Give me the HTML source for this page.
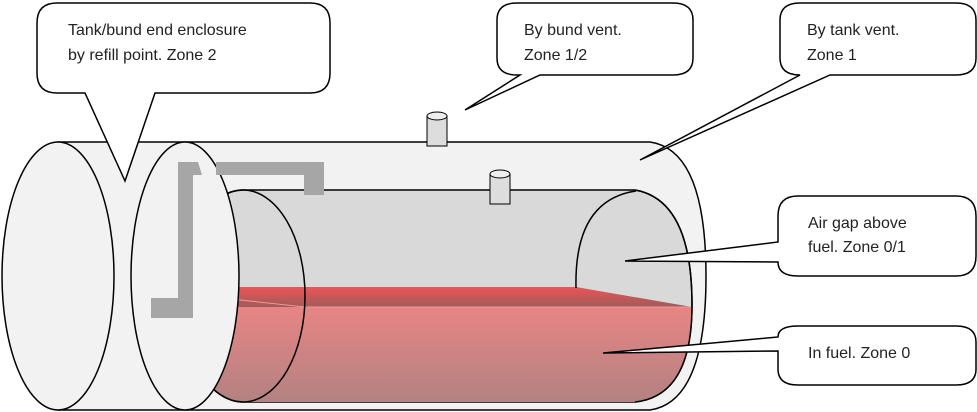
<!DOCTYPE html><html><head><style>body{margin:0;background:#fff}svg{display:block}text{font-family:"Liberation Sans",sans-serif;font-size:16px;fill:#222}</style></head><body>
<svg width="977" height="412" viewBox="0 0 977 412">
<defs><linearGradient id="f" x1="0" y1="0" x2="0" y2="1"><stop offset="0" stop-color="#e88484"/><stop offset="1" stop-color="#b08282"/></linearGradient>
<linearGradient id="b" x1="0" y1="0" x2="0" y2="1"><stop offset="0" stop-color="#ee5555"/><stop offset="1" stop-color="#a05a5a"/></linearGradient>
<clipPath id="c"><path d="M243,190 L635,190 Q692,200 692,305 Q692,396 635,402 L243,402 A62,106 0 0 1 243,190 Z"/></clipPath></defs>
<path d="M58,142 L650,142 Q706,150 706,276 Q706,402 650,410 L58,410 Z" fill="#f2f2f2" stroke="#000" stroke-width="1.5"/>
<rect x="427" y="116" width="20" height="30" fill="#ddd" stroke="#000"/><ellipse cx="437" cy="116" rx="10" ry="4" fill="#eee" stroke="#000"/>
<path d="M243,190 L635,190 Q692,200 692,305 Q692,396 635,402 L243,402 A62,106 0 0 1 243,190 Z" fill="#d9d9d9" stroke="#000" stroke-width="1.5"/>
<g clip-path="url(#c)">
<rect x="170" y="307" width="530" height="100" fill="url(#f)"/>
<path d="M170,287 L576,287 L692,307 L170,307 Z" fill="url(#b)"/>
<path d="M213,297 L305,307 L690,307" fill="none" stroke="#e99" stroke-width="1"/>
</g>
<path d="M576,288 Q574,200 636,191" fill="none" stroke="#000" stroke-width="1.5"/>
<path d="M635,190 Q692,200 692,305 Q692,396 635,402" fill="none" stroke="#000" stroke-width="1.5"/>
<ellipse cx="243" cy="296" rx="62" ry="106" fill="none" stroke="#000" stroke-width="1.5"/>
<rect x="490" y="174" width="20" height="30" fill="#ddd" stroke="#000"/><ellipse cx="500" cy="174" rx="10" ry="4" fill="#eee" stroke="#000"/>
<ellipse cx="58" cy="276" rx="56" ry="134" fill="#f2f2f2" stroke="#000" stroke-width="1.5"/>
<ellipse cx="185" cy="276" rx="54" ry="134" fill="#f2f2f2" stroke="#000" stroke-width="1.5"/>
<path d="M178,162 L198,162 L202,175 L193,175 L193,318 L151,318 L151,298 L178,298 Z" fill="#a6a6a6"/>
<path d="M216,162 L324,162 L324,195 L304,195 L304,175 L216,175 Z" fill="#a6a6a6"/>
<g fill="#fff" stroke="#000" stroke-width="1.5">
<path d="M57,3 L310,3 Q330,3 330,23 L330,73 Q330,93 310,93 L155,93 L125,181 L85,93 L57,93 Q37,93 37,73 L37,23 Q37,3 57,3 Z"/>
<path d="M517,3 L673,3 Q693,3 693,20 L693,58 Q693,75 673,75 L540,75 L465,110 L520,75 L517,75 Q497,75 497,58 L497,20 Q497,3 517,3 Z"/>
<path d="M800,3 L956,3 Q976,3 976,20 L976,58 Q976,75 956,75 L830,75 L640,160 L800,75 Q780,75 780,58 L780,20 Q780,3 800,3 Z"/>
<path d="M798,196 L956,196 Q976,196 976,216 L976,256 Q976,276 956,276 L798,276 Q778,276 778,262 L625,261 L778,242 L778,216 Q778,196 798,196 Z"/>
<path d="M798,326 L956,326 Q976,326 976,342 L976,369 Q976,385 956,385 L798,385 Q778,385 778,369 L778,351 L603,353 L778,337 Q778,326 798,326 Z"/>
</g>
<text x="68" y="35">Tank/bund end enclosure</text><text x="68" y="60">by refill point. Zone 2</text>
<text x="524" y="35">By bund vent.</text><text x="524" y="60">Zone 1/2</text>
<text x="807" y="35">By tank vent.</text><text x="807" y="60">Zone 1</text>
<text x="808" y="228">Air gap above</text><text x="808" y="252">fuel. Zone 0/1</text>
<text x="808" y="358">In fuel. Zone 0</text>
</svg></body></html>
